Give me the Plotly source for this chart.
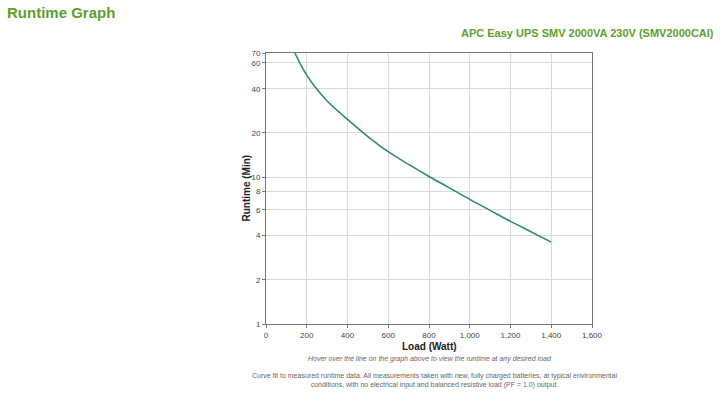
import plotly.graph_objects as go
import math

load_watt = [142, 170, 200, 250, 300, 400, 500, 600, 700, 800, 900, 1000, 1100, 1200, 1300, 1400]
runtime_min = [70, 58.4, 49.5, 39.6, 33.0, 24.7, 18.9, 14.9, 12.2, 10.1, 8.45, 7.06, 5.94, 5.0, 4.25, 3.61]

y_ticks = [1, 2, 4, 6, 8, 10, 20, 40, 60, 70]
x_ticks = [0, 200, 400, 600, 800, 1000, 1200, 1400, 1600]
x_tick_text = ["0", "200", "400", "600", "800", "1,000", "1,200", "1,400", "1,600"]

GREEN = "#5f9e2b"
FONT = "Liberation Sans, Arial, sans-serif"
PW, PH = 326, 271  # plot area size in px

fig = go.Figure()
fig.add_trace(go.Scatter(
    x=load_watt, y=runtime_min, mode="lines",
    line=dict(color="#2e8b6b", width=1.6, shape="spline", smoothing=1.0),
    hoverinfo="x+y", showlegend=False,
))

fig.update_layout(
    width=720, height=394,
    margin=dict(l=266, r=128, t=53, b=70),
    paper_bgcolor="white", plot_bgcolor="white",
    font=dict(family=FONT, size=8, color="#444"),
    xaxis=dict(
        range=[0, 1600], tickvals=x_ticks, ticktext=x_tick_text,
        showgrid=True, gridcolor="#d8d8d8", gridwidth=1,
        showline=True, linecolor="#777", linewidth=1, mirror=True,
        ticks="outside", ticklen=3, tickcolor="#777",
        zeroline=False,
    ),
    yaxis=dict(
        type="log", range=[0, math.log10(70)], tickvals=y_ticks,
        ticktext=[str(v) for v in y_ticks],
        showgrid=True, gridcolor="#d8d8d8", gridwidth=1,
        showline=True, linecolor="#777", linewidth=1, mirror=True,
        ticks="outside", ticklen=3, tickcolor="#777",
        zeroline=False,
    ),
    annotations=[
        dict(text="<b>Runtime Graph</b>", xref="paper", yref="paper", x=-261/PW, y=1 + 41/PH,
             xanchor="left", yanchor="middle", showarrow=False,
             font=dict(size=15, color=GREEN, family=FONT)),
        dict(text="<b>APC Easy UPS SMV 2000VA 230V (SMV2000CAI)</b>", xref="paper", yref="paper",
             x=1 + 124/PW, y=1 + 20/PH, xanchor="right", yanchor="middle", showarrow=False,
             font=dict(size=11, color=GREEN, family=FONT)),
        dict(text="<b>Load (Watt)</b>", xref="paper", yref="paper", x=0.5, y=-(346-324)/PH,
             xanchor="center", yanchor="middle", showarrow=False,
             font=dict(size=10, color="#222", family=FONT)),
        dict(text="<b>Runtime (Min)</b>", xref="paper", yref="paper", x=-(266-246)/PW, y=0.5,
             xanchor="center", yanchor="middle", showarrow=False, textangle=-90,
             font=dict(size=10, color="#222", family=FONT)),
        dict(text="<i>Hover over the line on the graph above to view the runtime at any desired load</i>",
             xref="paper", yref="paper", x=(430-266)/PW, y=-(359-324)/PH,
             xanchor="center", yanchor="middle", showarrow=False,
             font=dict(size=7, color="#666", family=FONT)),
        dict(text="Curve fit to measured runtime data. All measurements taken with new, fully charged batteries, at typical environmental<br>conditions, with no electrical input and balanced resistive load (PF = 1.0) output.",
             xref="paper", yref="paper", x=(434-266)/PW, y=-(380-324)/PH,
             xanchor="center", yanchor="middle", showarrow=False, align="center",
             font=dict(size=7, color="#666", family=FONT)),
    ],
)

fig.write_html("out.html", config={"displayModeBar": False},
               post_script="document.body.style.margin='0';document.body.style.overflow='hidden';")
